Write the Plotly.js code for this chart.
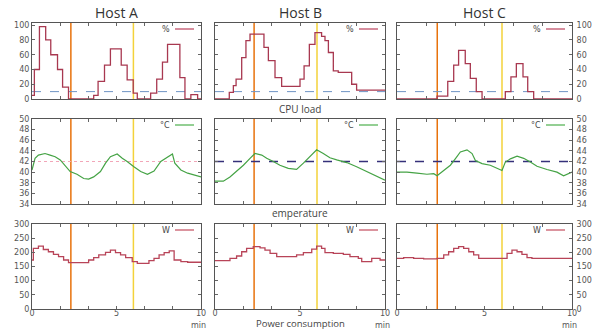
<!DOCTYPE html>
<html><head><meta charset="utf-8">
<script src="https://cdn.plot.ly/plotly-3.0.1.min.js"></script>
<style>html,body{margin:0;padding:0;background:#fff}#chart{width:594px;height:331px}</style>
</head><body><div id="chart"></div>
<script>
// ---------- data (time in minutes) ----------
const hosts = ['Host A', 'Host B', 'Host C'];
const rowTitles = ['CPU load', 'emperature', 'Power consumption'];
const units = ['%', '°C', 'W'];
const eventTimes = [2.3, 6.0];
const cpuThreshold = 10;
const tempThreshold = 42;
const xTickVals = [0, 1.667, 3.333, 5, 6.667, 8.333, 10];
const xTickText = ['0', '', '', '5', '', '', '10'];
const cpuTicks = [0, 20, 40, 60, 80, 100];
const tempTicks = [34, 36, 38, 40, 42, 44, 46, 48, 50];
const powTicks = [0, 50, 100, 150, 200, 250, 300];

const cpuA_t = [0, 0.14, 0.44, 0.81, 1.11, 1.51, 1.81, 2.16, 3.55, 3.65, 3.91, 4.29, 4.64, 5.28, 5.63, 5.99, 6.23, 7.02, 7.38, 7.72, 8.02, 8.75, 9.05, 9.40, 9.80, 10];
const cpuA_v = [5, 40, 98, 80, 60, 40, 16, 0, 0, 5, 24, 46, 68, 46, 26, 8, 0, 8, 27, 50, 74, 29, 0, 6, 0, 0];
const cpuB_t = [0, 0.84, 1.08, 1.24, 1.57, 1.82, 2.06, 2.88, 3.14, 3.53, 3.92, 5.00, 5.24, 5.55, 5.88, 6.27, 6.47, 6.67, 6.96, 7.25, 8.04, 8.33, 10];
const cpuB_v = [0, 9, 18, 27, 56, 79, 88, 70, 52, 29, 17, 27, 45, 74, 90, 85, 79, 63, 38, 36, 20, 12, 12];
const cpuC_t = [0, 2.29, 2.90, 3.24, 3.52, 3.90, 4.19, 4.53, 4.86, 6.19, 6.51, 6.82, 7.20, 7.47, 7.81, 10];
const cpuC_v = [0, 4, 24, 46, 66, 48, 28, 10, 0, 10, 30, 48, 30, 10, 0, 0];

const tempA_t = [0, 0.18, 0.38, 0.77, 1.07, 1.37, 1.67, 1.96, 2.26, 2.66, 3.06, 3.35, 3.65, 4.05, 4.35, 4.64, 5.04, 5.34, 5.63, 6.03, 6.43, 6.83, 7.22, 7.62, 8.02, 8.31, 8.45, 8.81, 9.21, 9.60, 10];
const tempA_v = [40.4, 42.6, 43.2, 43.5, 43.2, 42.9, 42.3, 41.3, 40.1, 39.6, 38.8, 38.7, 39.1, 40.1, 41.7, 42.9, 43.4, 42.6, 42.0, 41.0, 40.1, 39.6, 40.2, 42.0, 42.9, 43.4, 41.7, 40.4, 39.8, 39.5, 39.1];
const tempB_t = [0, 0.49, 0.88, 1.27, 1.67, 2.06, 2.35, 2.75, 3.04, 3.43, 3.82, 4.31, 4.80, 5.20, 5.59, 5.98, 6.37, 6.76, 7.16, 7.75, 8.33, 8.92, 9.51, 10];
const tempB_v = [38.3, 38.3, 39.1, 40.1, 41.3, 42.6, 43.5, 43.2, 42.6, 42.0, 41.3, 40.7, 40.5, 41.7, 42.9, 44.2, 43.5, 42.7, 42.3, 41.8, 41.0, 40.1, 39.1, 38.5];
const tempC_t = [0, 0.57, 1.14, 1.71, 2.10, 2.29, 2.67, 3.05, 3.33, 3.62, 4.00, 4.29, 4.48, 4.86, 5.33, 5.81, 6.00, 6.19, 6.48, 6.86, 7.24, 7.62, 8.00, 8.57, 9.14, 9.52, 10];
const tempC_v = [40.0, 40.0, 39.8, 39.6, 39.7, 39.3, 40.3, 41.3, 42.5, 43.8, 44.2, 43.5, 42.2, 41.6, 41.3, 40.6, 40.3, 41.9, 42.5, 43.0, 42.6, 41.9, 41.1, 40.5, 40.0, 39.3, 40.0];

const powA_t = [0, 0.08, 0.38, 0.67, 0.97, 1.27, 1.57, 1.87, 2.16, 3.35, 3.65, 3.95, 4.35, 4.64, 4.94, 5.24, 5.54, 5.93, 6.23, 6.92, 7.22, 7.52, 7.82, 8.12, 8.41, 8.81, 9.21, 10];
const powA_v = [173, 214, 222, 210, 202, 193, 185, 173, 164, 173, 181, 191, 200, 208, 199, 191, 181, 167, 161, 171, 179, 191, 199, 205, 173, 167, 165, 165];
const powB_t = [0, 0.88, 1.27, 1.57, 1.86, 2.25, 2.65, 2.94, 3.24, 3.63, 4.80, 5.20, 5.69, 5.98, 6.27, 6.47, 6.96, 7.55, 7.94, 8.43, 8.63, 9.22, 9.71, 10];
const powB_v = [171, 179, 187, 202, 214, 220, 216, 208, 196, 185, 191, 199, 211, 222, 214, 199, 196, 193, 185, 179, 167, 179, 173, 173];
const powC_t = [0, 0.38, 0.95, 1.52, 2.29, 2.67, 2.95, 3.24, 3.52, 3.81, 4.10, 4.38, 4.67, 6.19, 6.29, 6.57, 6.86, 7.14, 7.43, 7.71, 10];
const powC_v = [179, 181, 179, 177, 179, 191, 202, 214, 220, 214, 202, 191, 179, 179, 196, 208, 202, 193, 181, 179, 179];

// ---------- layout helpers ----------
const W = 594, H = 331;
const cols = [[32, 201], [215, 385], [397, 572]];
const rows = [[23, 99], [119, 204], [224, 309]];
const px = x => x / W, py = y => 1 - y / H;

const series = [
  [[cpuA_t, cpuA_v], [cpuB_t, cpuB_v], [cpuC_t, cpuC_v]],
  [[tempA_t, tempA_v], [tempB_t, tempB_v], [tempC_t, tempC_v]],
  [[powA_t, powA_v], [powB_t, powB_v], [powC_t, powC_v]]
];
const yRanges = [[0, 103], [34, 50], [0, 300]];
const yTicks = [cpuTicks, tempTicks, powTicks];
const lineColors = ['#a83850', '#45a345', '#b84458'];
const lineShapes = ['hv', 'linear', 'hv'];
const legendColors = ['#c05068', '#5ab55a', '#c85a6a'];

const data = [];
const layout = {
  width: W, height: H, margin: {l: 0, r: 0, t: 0, b: 0},
  paper_bgcolor: '#fff', plot_bgcolor: '#fff', showlegend: false,
  font: {family: 'DejaVu Sans', size: 8, color: '#555'},
  annotations: [], shapes: []
};

for (let r = 0; r < 3; r++) {
  for (let c = 0; c < 3; c++) {
    const k = r * 3 + c + 1;
    const xs = k === 1 ? '' : String(k);
    const [t, v] = series[r][c];
    data.push({
      x: t, y: v, xaxis: 'x' + xs, yaxis: 'y' + xs, mode: 'lines',
      line: {shape: lineShapes[r], color: lineColors[r], width: r === 1 ? 1.2 : 1.3},
      name: units[r], hoverinfo: 'skip'
    });
    layout['xaxis' + xs] = {
      domain: [px(cols[c][0]), px(cols[c][1])], anchor: 'y' + xs,
      range: [0, 10], tickmode: 'array', tickvals: xTickVals, ticktext: xTickText,
      showticklabels: r === 2, ticks: 'inside', ticklen: 3, tickcolor: '#666',
      ticklabelstandoff: -4,
      showline: true, linecolor: '#555', linewidth: 1, mirror: 'ticks',
      showgrid: false, zeroline: false, tickfont: {size: 8, color: '#555'}
    };
    layout['yaxis' + xs] = {
      domain: [py(rows[r][1]), py(rows[r][0])], anchor: 'x' + xs,
      range: yRanges[r], tickmode: 'array', tickvals: yTicks[r],
      side: c === 2 ? 'right' : 'left', showticklabels: c !== 1,
      ticklabelstandoff: c === 2 ? 2 : 0,
      ticks: 'inside', ticklen: 3, tickcolor: '#666',
      showline: true, linecolor: '#555', linewidth: 1, mirror: 'ticks',
      showgrid: false, zeroline: false, tickfont: {size: 8, color: '#555'}
    };
    // event markers
    eventTimes.forEach((et, i) => {
      layout.shapes.push({type: 'line', xref: 'x' + xs, yref: 'y' + xs + ' domain',
        x0: et, x1: et, y0: 0, y1: 1,
        line: {color: i === 0 ? '#e8720c' : '#f3d23a', width: 1.5}, layer: 'below'});
    });
    // thresholds
    if (r === 0) {
      layout.shapes.push({type: 'line', xref: 'x' + xs + ' domain', yref: 'y' + xs,
        x0: 0, x1: 1, y0: cpuThreshold, y1: cpuThreshold,
        line: {color: '#6f94c4', width: 1, dash: 'dash'}, layer: 'below'});
    } else if (r === 1) {
      layout.shapes.push({type: 'line', xref: 'x' + xs + ' domain', yref: 'y' + xs,
        x0: 0, x1: 1, y0: tempThreshold, y1: tempThreshold,
        line: c === 0 ? {color: '#f2a6b8', width: 1, dash: 'dot'} : {color: '#35307a', width: 1.3, dash: 'dash'},
        layer: 'below'});
    }
    // legend key (gnuplot style: text then line sample)
    const right = cols[c][1];
    const ly = rows[r][0] + 6;
    layout.annotations.push({xref: 'paper', yref: 'paper', x: px(right - 29), y: py(ly),
      xanchor: 'right', yanchor: 'middle', text: units[r], showarrow: false,
      font: {size: 8, color: '#444'}});
    layout.shapes.push({type: 'line', xref: 'paper', yref: 'paper',
      x0: px(right - 26), x1: px(right - 7), y0: py(ly), y1: py(ly),
      line: {color: legendColors[r], width: 1.3}});
  }
}

// column titles
hosts.forEach((h, c) => {
  layout.annotations.push({xref: 'paper', yref: 'paper', x: px((cols[c][0] + cols[c][1]) / 2), y: py(12),
    xanchor: 'center', yanchor: 'middle', text: h, showarrow: false,
    font: {family: 'Open Sans', size: 14, color: '#333'}});
  layout.annotations.push({xref: 'paper', yref: 'paper', x: px(cols[c][1] - 3), y: py(325),
    xanchor: 'center', yanchor: 'middle', text: 'min', showarrow: false, borderpad: 0,
    font: {size: 8, color: '#555'}});
});
// row captions
const captionY = [109, 213, 323.5];
const captionSize = [10, 10, 9.5];
rowTitles.forEach((t, r) => {
  layout.annotations.push({xref: 'paper', yref: 'paper', x: px(300), y: py(captionY[r]),
    xanchor: 'center', yanchor: 'middle', text: t, showarrow: false, borderpad: 0,
    font: {family: 'Open Sans', size: captionSize[r], color: '#444'}});
});

Plotly.newPlot('chart', data, layout, {staticPlot: true});
</script>
</body></html>
